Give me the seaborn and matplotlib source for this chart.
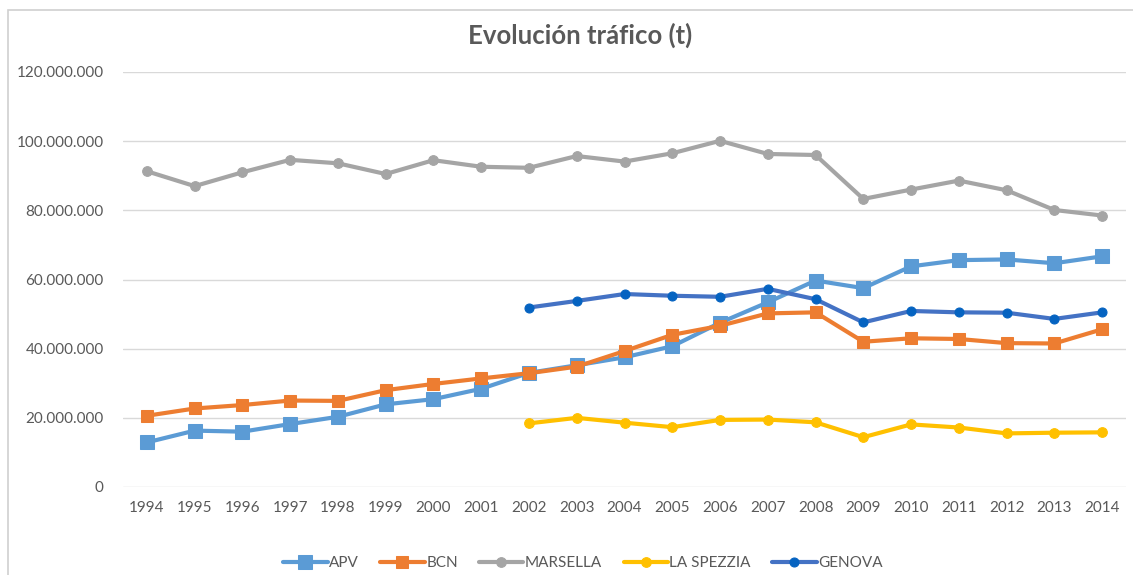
import numpy as np
import pandas as pd
import matplotlib
matplotlib.use("Agg")
import matplotlib.pyplot as plt
import seaborn as sns
from matplotlib.patches import Rectangle
from matplotlib.ticker import FuncFormatter

years = list(range(1994, 2015))
apv = [12.9, 16.3, 16.0, 18.2, 20.3, 23.9, 25.4, 28.4, 33.0, 35.2, 37.5, 40.7,
       47.5, 53.4, 59.7, 57.5, 63.8, 65.6, 65.8, 64.7, 66.7]
bcn = [20.6, 22.7, 23.7, 25.0, 24.9, 28.0, 29.8, 31.4, 32.9, 34.8, 39.3, 44.0,
       46.6, 50.2, 50.5, 42.0, 43.0, 42.8, 41.6, 41.5, 45.6]
marsella = [91.3, 87.0, 91.0, 94.6, 93.6, 90.5, 94.5, 92.6, 92.3, 95.7, 94.1, 96.5,
            100.1, 96.3, 96.0, 83.3, 86.0, 88.6, 85.8, 80.1, 78.5]
la_spezzia = [None]*8 + [18.4, 20.0, 18.6, 17.3, 19.4, 19.5, 18.7, 14.4, 18.1,
                         17.2, 15.5, 15.7, 15.8]
genova = [None]*8 + [51.9, 53.8, 55.8, 55.3, 55.0, 57.3, 54.3, 47.6, 50.9,
                     50.5, 50.4, 48.6, 50.5]

series_names = ["APV", "BCN", "MARSELLA", "LA SPEZZIA", "GENOVA"]
series_vals = [apv, bcn, marsella, la_spezzia, genova]
line_colors = ["#5B9BD5", "#ED7D31", "#A5A5A5", "#FFC000", "#4472C4"]
marker_colors = ["#5B9BD5", "#ED7D31", "#A5A5A5", "#FFC000", "#0563C1"]
markers = ["s", "s", "o", "o", "o"]
msizes = [10, 8, 7, 7, 6.5]

sns.set_theme(style="white")
plt.rcParams["font.family"] = ["Lato", "DejaVu Sans"]

fig = plt.figure(figsize=(11.33, 5.75), dpi=100)
ax = fig.add_axes([123/1133, 88/575, (1126-123)/1133, (487-72)/575])

# chart border
fig.patches.append(Rectangle((8/1133, -0.05), 1.2, 1 - 10/575 + 0.05,
                             transform=fig.transFigure, fill=False,
                             edgecolor="#D0D0D0", linewidth=1.2, zorder=0))

idx = np.arange(len(years))
for name, vals, lc, mc, mk, ms in zip(series_names, series_vals, line_colors,
                                       marker_colors, markers, msizes):
    y = np.array([np.nan if v is None else v * 1e6 for v in vals], dtype=float)
    df = pd.DataFrame({"x": idx, "y": y}).dropna()
    sns.lineplot(data=df, x="x", y="y", ax=ax, color=lc, linewidth=3,
                 marker=mk, markersize=ms, markerfacecolor=mc,
                 markeredgecolor=mc, label=name, zorder=3)

ax.set_xlim(-0.5, len(years) - 0.5)
ax.set_ylim(0, 120e6)
ax.set_xticks(idx)
ax.set_xticklabels([str(y) for y in years])
ax.set_yticks(np.arange(0, 120e6 + 1, 20e6))
ax.yaxis.set_major_formatter(FuncFormatter(lambda v, p: f"{int(v):,}".replace(",", ".")))
ax.grid(axis="y", color="#D9D9D9", linewidth=1)
ax.set_axisbelow(True)
for s in ax.spines.values():
    s.set_visible(False)
ax.tick_params(axis="both", length=0, labelsize=11, labelcolor="#595959")
ax.tick_params(axis="x", pad=10)
ax.tick_params(axis="y", pad=14)
ax.set_xlabel("")
ax.set_ylabel("")

fig.text(0.512, 1 - 35/575, "Evolución tráfico (t)", ha="center", va="center",
         fontsize=18.5, fontweight="bold", color="#595959")

ax.legend(loc="center", bbox_to_anchor=((583-123)/(1126-123), (575 - 563 - 88)/(487-72)),
          bbox_transform=ax.transAxes, ncol=5, frameon=False, fontsize=11,
          handlelength=2.9, columnspacing=1.4, handletextpad=0.1,
          labelcolor="#595959")

fig.savefig("out.png", dpi=100)
